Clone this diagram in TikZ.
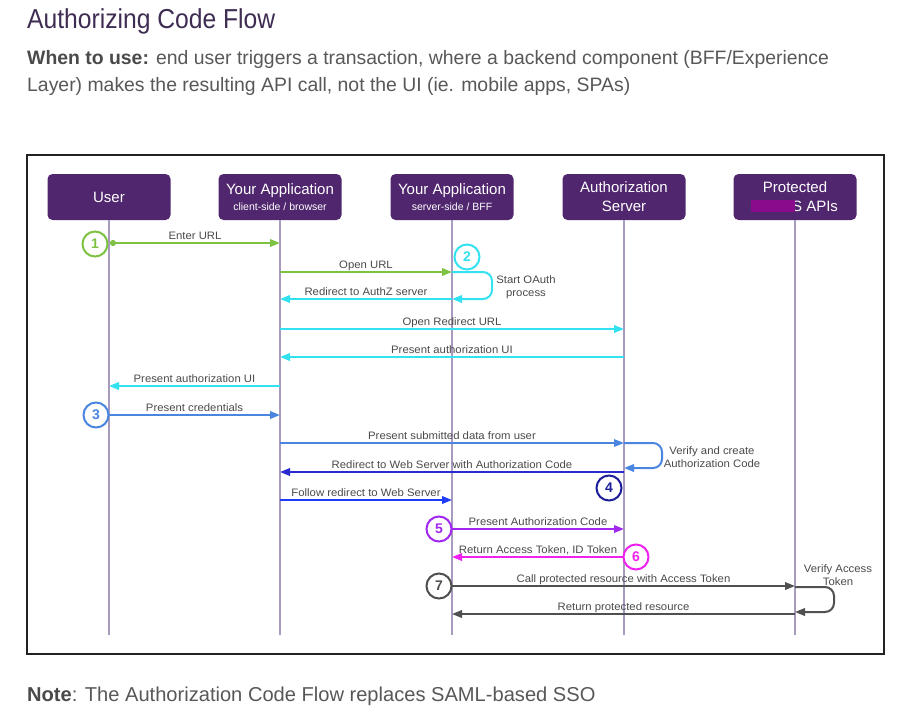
\documentclass[tikz,border=0pt]{standalone}
\usepackage{fontspec}
\setmainfont{Liberation Sans}
\newfontfamily\titlefont[FakeStretch=0.9]{Liberation Sans}
\newfontfamily\lblfont[FakeStretch=1.05]{Liberation Sans}
\usetikzlibrary{arrows.meta,calc}
\definecolor{hdrpurple}{HTML}{50266E}
\definecolor{lifecol}{HTML}{A99BC0}
\definecolor{cgreen}{HTML}{7DC242}
\definecolor{ccyan}{HTML}{33E2F0}
\definecolor{cblue}{HTML}{4A86E0}
\definecolor{cdblue}{HTML}{2A2AD0}
\definecolor{cbblue}{HTML}{1E3CF5}
\definecolor{cnavy}{HTML}{1E1E9A}
\definecolor{cpurple}{HTML}{A128F0}
\definecolor{cmagenta}{HTML}{F022F0}
\definecolor{cgray}{HTML}{505050}
\definecolor{lbltext}{HTML}{4A4A4A}
\definecolor{titlecol}{HTML}{3E2C52}
\definecolor{bodycol}{HTML}{585858}
\definecolor{redact}{HTML}{8A0C8C}
\definecolor{framecol}{HTML}{222222}
\begin{document}
\begin{tikzpicture}[x=1pt,y=-1pt,
  hdr/.style={fill=hdrpurple, rounded corners=5pt, minimum width=123pt, minimum height=46pt,
    text=white, align=center, inner sep=0pt, font=\fontsize{15}{19}\selectfont},
  life/.style={draw=lifecol, line width=1.8pt},
  msg/.style={line width=2pt, -{Triangle[length=10pt,width=7.5pt]}},
  loopline/.style={line width=2pt, rounded corners=9pt, -{Triangle[length=10pt,width=7.5pt]}},
  lbl/.style={midway, above, inner sep=1pt, text height=8pt, text depth=2pt,
    text=lbltext, font=\lblfont\fontsize{10.8}{12}\selectfont},
  note/.style={text=lbltext, align=center, inner sep=0pt, font=\lblfont\fontsize{10.8}{13.5}\selectfont},
  stepc/.style={circle, draw=#1, text=#1, line width=2pt, minimum size=25pt, inner sep=0pt, fill=white,
    font=\bfseries\fontsize{14}{14}\selectfont},
]
\useasboundingbox (0,0) rectangle (901,715);
\fill[white] (0,0) rectangle (901,715);

% texts outside the frame
\node[anchor=base west, inner sep=0pt, text=titlecol, font=\titlefont\fontsize{27.4}{30}\selectfont] (title) at (27,28) {Authorizing Code Flow};
\node[anchor=base west, inner sep=0pt, text=bodycol, font=\fontsize{19.4}{24}\selectfont] (body1) at (27,64)
  {\textcolor{lbltext}{\bfseries When to use:} end user triggers a transaction, where a backend component (BFF/Experience};
\node[anchor=base west, inner sep=0pt, text=bodycol, font=\fontsize{19.4}{24}\selectfont] (body2) at (27,91)
  {Layer) makes the resulting API call, not the UI (ie. mobile apps, SPAs)};
\node[anchor=base west, inner sep=0pt, text=bodycol, font=\fontsize{20.1}{24}\selectfont] (notetext) at (27,701)
  {\textcolor{lbltext}{\bfseries Note}: The Authorization Code Flow replaces SAML-based SSO};

% frame
\draw[framecol, line width=1.6pt] (27,155) rectangle (884,654);

% headers
\node[hdr] (user) at (109,197) {User};
\node[hdr] (client) at (280,197) {Your Application\\[-3pt]{\fontsize{10.5}{12}\selectfont client-side / browser}};
\node[hdr] (server) at (452,197) {Your Application\\[-3pt]{\fontsize{10.5}{12}\selectfont server-side / BFF}};
\node[hdr] (authz) at (624,197) {Authorization\\Server};
\node[hdr] (api) at (795,197) {Protected\\\rule{40pt}{0pt}\rlap{S}\rlap{\hspace{-41pt}\textcolor{redact}{\rule[-1pt]{44pt}{12pt}}}\hphantom{S} APIs};

% lifelines
\coordinate (userend) at (109,635);
\coordinate (clientend) at (280,635);
\coordinate (serverend) at (452,635);
\coordinate (authzend) at (624,635);
\coordinate (apiend) at (795,635);
\draw[life] (user.south) -- (userend);
\draw[life] (client.south) -- (clientend);
\draw[life] (server.south) -- (serverend);
\draw[life] (authz.south) -- (authzend);
\draw[life] (api.south) -- (apiend);

% 1
\draw[msg, cgreen, {Circle[length=6pt]}-{Triangle[length=10pt,width=7.5pt]}] ($(user |- 0,243)+(1,0)$) -- node[lbl]{Enter URL} (client |- 0,243);
\draw[msg, cgreen] (client |- 0,272) -- node[lbl]{Open URL} (server |- 0,272);
% 2
\draw[loopline, ccyan] (server |- 0,272) -- ++(40,0) -- ++(0,27) -- (server |- 0,299);
\node[note] (startoauth) at (526,287) {Start OAuth\\process};
\draw[msg, ccyan] (server |- 0,299) -- node[lbl]{Redirect to AuthZ server} (client |- 0,299);
\draw[msg, ccyan] (client |- 0,329) -- node[lbl]{Open Redirect URL} (authz |- 0,329);
\draw[msg, ccyan] (authz |- 0,357) -- node[lbl]{Present authorization UI} (client |- 0,357);
\draw[msg, ccyan] (client |- 0,386) -- node[lbl]{Present authorization UI} (user |- 0,386);
% 3
\draw[msg, cblue] (user |- 0,415) -- node[lbl]{Present credentials} (client |- 0,415);
\draw[msg, cblue, line width=1.6pt] (client |- 0,443) -- node[lbl]{Present submitted data from user} (authz |- 0,443);
\draw[loopline, cblue] (authz |- 0,443) -- ++(38,0) -- ++(0,25) -- (authz |- 0,468);
\node[note] (verifycreate) at (712,457) {Verify and create\\Authorization Code};
% 4
\draw[msg, cdblue] (authz |- 0,472) -- node[lbl]{Redirect to Web Server with Authorization Code} (client |- 0,472);
\draw[msg, cbblue] (client |- 0,500) -- node[lbl]{Follow redirect to Web Server} (server |- 0,500);
% 5
\draw[msg, cpurple] (server |- 0,529) -- node[lbl]{Present Authorization Code} (authz |- 0,529);
% 6
\draw[msg, cmagenta] (authz |- 0,557) -- node[lbl]{Return Access Token, ID Token} (server |- 0,557);
% 7
\draw[msg, cgray] (server |- 0,586) -- node[lbl]{Call protected resource with Access Token} (api |- 0,586);
\draw[loopline, cgray] (api |- 0,587) -- ++(39,0) -- ++(0,25) -- (api |- 0,612);
\node[note] (verifyaccess) at (838,575) {Verify Access\\Token};
\draw[msg, cgray] (api |- 0,614) -- node[lbl]{Return protected resource} (server |- 0,614);

% step circles
\node[stepc=cgreen] (s1) at (95,244) {1};
\node[stepc=ccyan] (s2) at (467,257) {2};
\node[stepc=cblue] (s3) at (96,415) {3};
\node[stepc=cnavy] (s4) at (609,488) {4};
\node[stepc=cpurple] (s5) at (439,529) {5};
\node[stepc=cmagenta] (s6) at (636,557) {6};
\node[stepc=cgray] (s7) at (439,586) {7};
\end{tikzpicture}
\end{document}
